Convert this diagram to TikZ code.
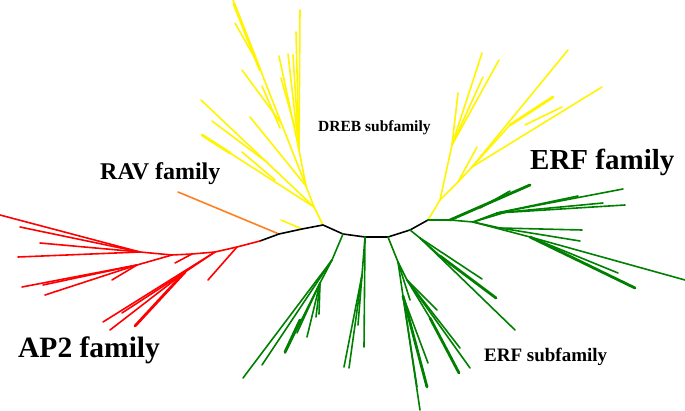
\documentclass[tikz,border=0pt]{standalone}
\usepackage{fontspec}
\setmainfont{Liberation Serif}
\definecolor{treered}{RGB}{255,0,0}
\definecolor{treeorange}{RGB}{255,128,32}
\definecolor{treeyellow}{RGB}{255,245,0}
\definecolor{treegreen}{RGB}{0,128,0}
\begin{document}
\begin{tikzpicture}[x=1pt,y=-1pt,line cap=round,line join=round,
  blk/.style={draw=black,line width=1.6pt},
  org/.style={draw=treeorange,line width=1.6pt},
  yel/.style={draw=treeyellow,line width=1.6pt},
  grn/.style={draw=treegreen,line width=1.6pt},
  rd/.style={draw=treered,line width=1.6pt},
  fat/.style={line width=2.8pt},
  lab/.style={font=\bfseries,anchor=west,inner sep=0pt}]
\useasboundingbox[fill=white] (0,0) rectangle (685,411);

% backbone
\coordinate (B0) at (260,241);
\coordinate (B1) at (279,234);
\coordinate (B2) at (302,229);
\coordinate (D0) at (323,225);
\coordinate (K1) at (343,234);
\coordinate (K4) at (365,237);
\coordinate (K6) at (388,237);
\coordinate (K10) at (410,230);
\coordinate (E0) at (428,220);

% orange RAV
\draw[org] (B1) -- (178,192);
% small yellow
\draw[yel] (B2) -- (281,220);

% DREB yellow clade
\coordinate (D1) at (314,207);
\coordinate (D2) at (306,186);
\coordinate (D3) at (299,150);
\draw[yel] (D0) -- (D1) -- (D2) -- (D3) -- (300,10);
\draw[yel] (D3) -- (296,32);
\draw[yel] (D3) -- (288,54);
\draw[yel] (D3) -- (279,56);
\draw[yel] (D3) -- (293,55);
\draw[yel] (295,128) -- (281,78);
\draw[yel] (D2) -- (233,0);
\draw[yel,fat] (260,70) -- (234,4);
\draw[yel] (257,62) -- (235,23);
\draw[yel] (281,123) -- (242,70);
\draw[yel] (280,128) -- (262,86);
\draw[yel] (D2) -- (250,117);
\draw[yel] (D1) -- (201,100);
\draw[yel] (268,163) -- (212,121);
\draw[yel] (D1) -- (202,135);
\draw[yel,fat] (230,153) -- (202,135);
\draw[yel] (275,180) -- (242,152);

% ERF yellow clade
\coordinate (E1) at (440,200);
\coordinate (E2) at (452,145);
\coordinate (E3) at (458,182);
\coordinate (E4) at (472,167);
\draw[yel] (E0) -- (E1) -- (E2) -- (482,53);
\draw[yel] (E2) -- (458,93);
\draw[yel] (E2) -- (499,60);
\draw[yel] (E2) -- (483,77);
\draw[yel] (E1) -- (E3) -- (E4);
\draw[yel] (E3) -- (477,147);
\draw[yel] (E4) -- (568,50);
\draw[yel] (E4) -- (602,87);
\draw[yel,fat] (510,125) -- (553,97);
\draw[yel] (E4) -- (510,125);
\draw[yel] (525,125) -- (562,107);

% black backbone on top
\draw[blk] (B0) -- (B1) -- (B2) -- (D0) -- (K1) -- (K4) -- (K6) -- (K10) -- (E0);

% ERF green upper-right clade
\coordinate (G1) at (450,220);
\coordinate (G2) at (473,222);
\coordinate (G3) at (497,213);
\coordinate (G4) at (500,228);
\coordinate (G5) at (530,237);
\draw[grn] (E0) -- (G1) -- (G2);
\draw[grn,fat] (G1) -- (530,185);
\draw[grn] (480,208) -- (510,191);
\draw[grn] (G2) -- (G3) -- (623,189);
\draw[grn] (G3) -- (625,205);
\draw[grn] (G3) -- (603,203);
\draw[grn] (G3) -- (578,196);
\draw[grn] (G2) -- (513,210);
\draw[grn] (G2) -- (G4) -- (582,230);
\draw[grn] (G4) -- (580,241);
\draw[grn] (G2) -- (G5) -- (685,280);
\draw[grn,fat] (G5) -- (635,288);
\draw[grn] (G5) -- (618,273);

% lower green clades
\coordinate (K2) at (332,260);
\coordinate (K3) at (320,283);
\draw[grn] (K1) -- (K2) -- (243,378);
\draw[grn] (K2) -- (262,365);
\draw[grn] (K2) -- (K3) -- (285,353);
\draw[grn,fat] (300,320) -- (285,352);
\draw[grn] (K3) -- (307,337);
\draw[grn] (K3) -- (316,317);
\draw[grn] (K3) -- (297,333);
\draw[grn] (K3) -- (319,314);

\coordinate (K5) at (362,275);
\draw[grn] (K4) -- (364,347);
\draw[grn] (K4) -- (K5) -- (344,367);
\draw[grn] (K5) -- (349,368);
\draw[grn] (K5) -- (358,325);

\coordinate (K7) at (398,262);
\coordinate (K8) at (407,280);
\coordinate (K9) at (403,296);
\draw[grn] (K6) -- (K7) -- (K9) -- (420,410);
\draw[grn,fat] (K9) -- (427,387);
\draw[grn] (K9) -- (417,387);
\draw[grn] (K9) -- (428,363);
\draw[grn] (K7) -- (410,300);
\draw[grn] (K7) -- (K8) -- (437,310);
\draw[grn] (K8) -- (460,348);
\draw[grn] (K8) -- (470,368);
\draw[grn,fat] (430,318) -- (459,373);
\draw[grn] (K8) -- (430,318);

\coordinate (K11) at (420,238);
\draw[grn] (K10) -- (K11) -- (482,279);
\draw[grn,fat] (440,256) -- (496,298);
\draw[grn] (K11) -- (440,256);
\draw[grn] (K11) -- (515,330);

% red AP2 clade
\coordinate (R1) at (237,247);
\coordinate (R2) at (215,252);
\coordinate (R2b) at (185,272);
\coordinate (R3) at (192,254);
\coordinate (R4) at (172,255);
\coordinate (R5) at (140,252);
\coordinate (R6) at (137,265);
\draw[rd] (B0) -- (R1) -- (R2) -- (R3) -- (R4) -- (R5) -- (0,215);
\draw[rd] (R1) -- (208,280);
\draw[rd] (R2) -- (103,322);
\draw[rd] (R2) -- (R2b) -- (110,330);
\draw[rd,fat] (R2b) -- (135,326);
\draw[rd] (R2b) -- (122,313);
\draw[rd] (R3) -- (175,263);
\draw[rd] (R5) -- (20,227);
\draw[rd] (R5) -- (40,243);
\draw[rd] (R5) -- (18,257);
\draw[rd] (R4) -- (R6) -- (22,287);
\draw[rd] (R6) -- (45,295);
\draw[rd] (R6) -- (112,280);
\draw[rd] (R6) -- (43,285);

% labels
\node[lab,font=\bfseries\fontsize{15.5}{18}\selectfont] (dreb) at (318,128) {DREB subfamily};
\node[lab,font=\bfseries\fontsize{24}{28}\selectfont] (rav) at (100,174) {RAV family};
\node[lab,font=\bfseries\fontsize{29}{33}\selectfont] (erf) at (530,162) {ERF family};
\node[lab,font=\bfseries\fontsize{29.5}{34}\selectfont] (ap2) at (18,350) {AP2 family};
\node[lab,font=\bfseries\fontsize{19}{22}\selectfont] (erfsub) at (484,357) {ERF subfamily};
\end{tikzpicture}
\end{document}
